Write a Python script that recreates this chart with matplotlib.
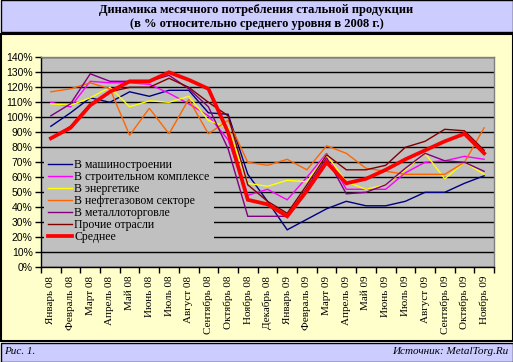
import numpy as np
import matplotlib
matplotlib.use("Agg")
import matplotlib.pyplot as plt
from matplotlib.patches import Rectangle

months = ["Январь 08", "Февраль 08", "Март 08", "Апрель 08", "Май 08", "Июнь 08",
          "Июль 08", "Август 08", "Сентябрь 08", "Октябрь 08", "Ноябрь 08",
          "Декабрь 08", "Январь 09", "Февраль 09", "Март 09", "Апрель 09", "Май 09",
          "Июнь 09", "Июль 09", "Август 09", "Сентябрь 09", "Октябрь 09", "Ноябрь 09"]

mash = [94, 103, 113, 110, 117, 114, 118, 118, 103, 102, 62, 44, 25, 32, 39, 44, 41, 41, 44, 50, 50, 56, 61]
stroi = [110, 107, 124, 123, 123, 122, 116, 109, 101, 85, 48, 52, 45, 60, 76, 52, 52, 52, 63, 70, 71, 74, 72]
energ = [109, 108, 113, 120, 107, 111, 110, 114, 98, 93, 56, 54, 58, 57, 75, 57, 52, 55, 65, 76, 59, 70, 62]
neftegaz = [117, 119, 123, 119, 88, 106, 89, 112, 89, 98, 70, 68, 72, 65, 81, 76, 66, 64, 62, 62, 62, 70, 93]
metal = [101, 109, 129, 124, 124, 124, 128, 119, 107, 79, 34, 34, 34, 53, 73, 49, 50, 55, 66, 76, 71, 70, 64]
prochie = [86, 94, 109, 117, 120, 120, 126, 120, 110, 101, 55, 44, 36, 55, 75, 65, 65, 68, 80, 84, 92, 91, 78]
srednee = [86, 93, 108, 117, 124, 124, 130, 125, 119, 90, 45, 42, 34, 51, 70, 56, 59, 65, 72, 78, 84, 89, 76]

series_labels = ["В машиностроении", "В строительном комплексе", "В энергетике",
                 "В нефтегазовом секторе", "В металлоторговле", "Прочие отрасли", "Среднее"]
yticks = list(range(0, 141, 10))

title1 = "Динамика месячного потребления стальной продукции"
title2 = "(в % относительно среднего уровня в 2008 г.)"
caption_left = "Рис. 1."
caption_right = "Источник: MetalTorg.Ru"

W, H = 513, 362
fig = plt.figure(figsize=(W / 100, H / 100), dpi=100)
fig.patch.set_facecolor("white")

def px_rect(x0, y0, x1, y1, fc, ec="black", lw=1.0):
    r = Rectangle((x0 / W, 1 - y1 / H), (x1 - x0) / W, (y1 - y0) / H,
                  transform=fig.transFigure, facecolor=fc, edgecolor=ec, linewidth=lw,
                  zorder=-5)
    fig.add_artist(r)

px_rect(0.5, 0.5, 512.5, 32, "#ccccff", lw=1.0)
px_rect(0.5, 34, 512.5, 341, "#ffffcc", lw=1.5)
px_rect(0.5, 342.5, 512.5, 361.5, "#ccccff", lw=1.0)

serif = "Liberation Serif"
fig.text(0.5, 1 - 10 / H, title1, ha="center", va="center", family=serif,
         fontweight="bold", fontsize=9)
fig.text(0.5, 1 - 24 / H, title2, ha="center", va="center", family=serif,
         fontweight="bold", fontsize=9)
fig.text(4 / W, 1 - 352 / H, caption_left, ha="left", va="center", family=serif,
         style="italic", fontsize=8)
fig.text(508 / W, 1 - 352 / H, caption_right, ha="right", va="center", family=serif,
         style="italic", fontsize=8)

left, right, top, bottom = 41, 494, 57.3, 267.3
ax = fig.add_axes([left / W, 1 - bottom / H, (right - left) / W, (bottom - top) / H])
ax.set_zorder(5)
ax.set_facecolor("#c0c0c0")

x = np.arange(len(months))
colors = ["#000080", "#ff00ff", "#ffff00", "#ff6600", "#800080", "#800000", "#ff0000"]
data = [mash, stroi, energ, neftegaz, metal, prochie, srednee]
for d, c, lab in zip(data, colors, series_labels):
    lw = 2.7 if lab == "Среднее" else 1.0
    ax.plot(x, d, color=c, lw=lw, label=lab, zorder=3 if lab == "Среднее" else 2,
            solid_joinstyle="miter")

ax.set_xlim(-0.5, len(months) - 0.5)
ax.set_ylim(0, 140)
ax.set_yticks(yticks)
ax.set_yticklabels([f"{v}%" for v in yticks], family="Liberation Sans", fontsize=7.5)
ax.yaxis.grid(True, color="black", lw=1.0)
ax.set_axisbelow(True)
ax.set_xticks(x)
ax.set_xticklabels(months, rotation=90, family=serif, fontsize=8)
ax.set_xticks(np.arange(-0.5, len(months), 1), minor=True)
ax.tick_params(axis="x", which="major", length=0, pad=6)
ax.tick_params(axis="x", which="minor", length=4, width=1, color="black")
ax.tick_params(axis="y", length=4, width=1, pad=2)
for s in ["top", "right"]:
    ax.spines[s].set_color("#808080")
    ax.spines[s].set_linewidth(1)
for s in ["left", "bottom"]:
    ax.spines[s].set_color("black")
    ax.spines[s].set_linewidth(1)

leg = ax.legend(loc="upper left", bbox_to_anchor=(43.5 / W, 1 - 154.5 / H),
                bbox_transform=fig.transFigure, frameon=True, borderaxespad=0,
                borderpad=0.4, handlelength=2.0, handletextpad=0.2, labelspacing=0.0,
                fancybox=False, prop={"family": serif, "size": 8.5})
frame = leg.get_frame()
frame.set_facecolor("#c0c0c0")
frame.set_edgecolor("none")
frame.set_alpha(1.0)
leg.set_zorder(10)

fig.savefig("out.png", dpi=100, facecolor=fig.get_facecolor())
